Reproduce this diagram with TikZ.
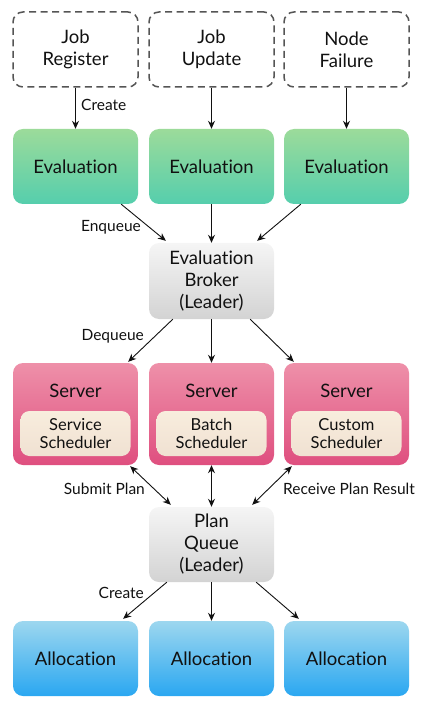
\documentclass[tikz,border=0pt]{standalone}
\usepackage{fontspec}
\setmainfont{Lato}[Ligatures=NoCommon]
\usetikzlibrary{arrows.meta,calc}
\definecolor{txt}{HTML}{111111}
\definecolor{dashc}{HTML}{555555}
\definecolor{gtop}{HTML}{9CDB9A}
\definecolor{gbot}{HTML}{55CEAD}
\definecolor{ptop}{HTML}{EE90A9}
\definecolor{pbot}{HTML}{DF4F7F}
\definecolor{itop}{HTML}{F8EDDD}
\definecolor{ibot}{HTML}{F0E1D2}
\definecolor{ktop}{HTML}{F5F5F5}
\definecolor{kbot}{HTML}{D3D3D3}
\definecolor{btop}{HTML}{9DD7EF}
\definecolor{bbot}{HTML}{2AA7F1}
\tikzset{
  box/.style={rectangle, rounded corners=10pt, minimum width=125pt, minimum height=75pt,
    align=center, text=txt, font=\fontsize{18.5}{22}\selectfont, inner sep=0pt},
  eventbox/.style={box, draw=dashc, line width=1.5pt, dash pattern=on 7pt off 4.5pt, fill=white},
  evalbox/.style={box, top color=gtop, bottom color=gbot},
  leaderbox/.style={box, top color=ktop, bottom color=kbot},
  serverbox/.style={box, minimum height=102pt, top color=ptop, bottom color=pbot},
  schedbox/.style={box, rounded corners=9pt, minimum width=110pt, minimum height=45pt,
    top color=itop, bottom color=ibot, font=\fontsize{16.5}{18.5}\selectfont},
  allocbox/.style={box, top color=btop, bottom color=bbot},
  arr/.style={-{Stealth[length=8pt,width=7pt]}, line width=0.9pt, draw=txt},
  darr/.style={{Stealth[length=8pt,width=7pt]}-{Stealth[length=8pt,width=7pt]}, line width=0.9pt, draw=txt},
  lbl/.style={font=\fontsize{15.5}{18}\selectfont, text=txt, inner sep=0pt},
  srvlbl/.style={text=txt, font=\fontsize{18.5}{22}\selectfont, inner sep=0pt},
}
\begin{document}
\begin{tikzpicture}[x=1pt,y=-1pt]
\useasboundingbox (0,0) rectangle (429,708);
% events
\node[eventbox] (jr) at (75.5,49.5) {Job\\Register};
\node[eventbox] (ju) at (211.5,49.5) {Job\\Update};
\node[eventbox] (nf) at (346.5,49.5) {Node\\Failure};
% evaluations
\node[evalbox] (e1) at (75.5,166.5) {Evaluation};
\node[evalbox] (e2) at (211.5,166.5) {Evaluation};
\node[evalbox] (e3) at (346.5,166.5) {Evaluation};
% broker
\node[leaderbox, minimum height=76pt] (eb) at (211.5,281) {Evaluation\\Broker\\(Leader)};
% servers
\node[serverbox] (s1) at (75.5,414) {};
\node[serverbox] (s2) at (211.5,414) {};
\node[serverbox] (s3) at (346.5,414) {};
\node[srvlbl] (s1t) at (75.5,391) {Server};
\node[srvlbl] (s2t) at (211.5,391) {Server};
\node[srvlbl] (s3t) at (346.5,391) {Server};
\node[schedbox] (c1) at (75.5,433.5) {Service\\Scheduler};
\node[schedbox] (c2) at (211.5,433.5) {Batch\\Scheduler};
\node[schedbox] (c3) at (346.5,433.5) {Custom\\Scheduler};
% plan queue
\node[leaderbox] (pq) at (211.5,544.5) {Plan\\Queue\\(Leader)};
% allocations
\node[allocbox] (a1) at (75.5,658.5) {Allocation};
\node[allocbox] (a2) at (211.5,658.5) {Allocation};
\node[allocbox] (a3) at (346.5,658.5) {Allocation};
% arrows events -> eval
\draw[arr] (jr) -- (e1);
\draw[arr] (ju) -- (e2);
\draw[arr] (nf) -- (e3);
% eval -> broker
\draw[arr] ($(e1.south east)+(-17,0)$) -- ($(eb.north west)+(17,-2)$);
\draw[arr] (e2) -- (eb);
\draw[arr] ($(e3.south west)+(17,0)$) -- ($(eb.north east)+(-17,-2)$);
% broker -> servers
\draw[arr] ($(eb.south west)+(24,0)$) -- ($(s1.north east)+(-10,-1)$);
\draw[arr] (eb) -- (s2);
\draw[arr] ($(eb.south east)+(-24,0)$) -- ($(s3.north west)+(10,-1)$);
% servers <-> plan queue
\draw[darr] ($(s1.south east)+(-8,1)$) -- ($(pq.north west)+(22,-2)$);
\draw[darr] (s2) -- (pq);
\draw[darr] ($(s3.south west)+(8,1)$) -- ($(pq.north east)+(-22,-2)$);
% plan queue -> allocations
\draw[arr] ($(pq.south west)+(18,0)$) -- ($(a1.north east)+(-15,-2)$);
\draw[arr] (pq) -- (a2);
\draw[arr] ($(pq.south east)+(-18,0)$) -- ($(a3.north west)+(15,-2)$);
% labels
\node[lbl, anchor=west] (l1) at (81,105) {Create};
\node[lbl, anchor=east] (l2) at (141,227) {Enqueue};
\node[lbl, anchor=east] (l3) at (144,336) {Dequeue};
\node[lbl, anchor=east] (l4) at (145,489) {Submit Plan};
\node[lbl, anchor=west] (l5) at (283,489) {Receive Plan Result};
\node[lbl, anchor=east] (l6) at (144,593) {Create};
\end{tikzpicture}
\end{document}
